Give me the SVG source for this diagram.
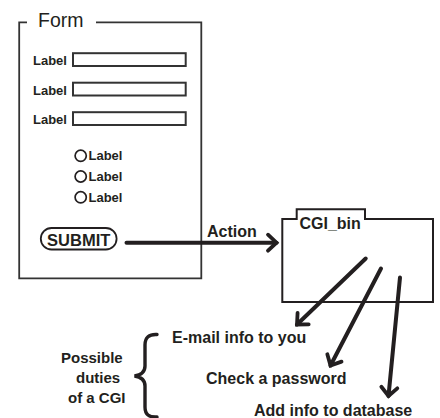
<svg xmlns="http://www.w3.org/2000/svg" width="440" height="418" viewBox="0 0 440 418">
  <defs>
    <style>
      .ink { stroke: #231f20; fill: none; }
      .frame { stroke: #333; stroke-width: 1.8; fill: none; }
      .field { stroke: #333; stroke-width: 2; fill: #fff; }
      .txt { font-family: "Liberation Sans", Arial, sans-serif; fill: #231f20; font-weight: bold; }
      .lbl { font-size: 13px; }
      .duty { font-size: 16px; }
      .note { font-size: 15px; }
      .arrow { stroke: #231f20; stroke-width: 4; fill: none; stroke-linecap: round; marker-end: url(#chev); }
    </style>
    <marker id="chev" markerUnits="userSpaceOnUse" viewBox="-12 -12 16 24" markerWidth="16" markerHeight="24" refX="0" refY="0" orient="auto">
      <path d="M-8.5,-8 L0,0 L-8.5,8" fill="none" stroke="#231f20" stroke-width="3.8" stroke-linecap="round" stroke-linejoin="miter"/>
    </marker>
  </defs>

  <!-- HTML form panel -->
  <g id="form">
    <path class="frame" d="M27,22.3 H19.2 V278.3 H201.3 V22.3 H96"/>
    <text x="38" y="27.3" font-family="Liberation Sans, Arial, sans-serif" font-size="19.5" fill="#231f20">Form</text>

    <g id="field-1">
      <text class="txt lbl" x="33" y="65">Label</text>
      <rect class="field" x="73" y="53.2" width="112.7" height="12.8"/>
    </g>
    <g id="field-2">
      <text class="txt lbl" x="33" y="94.5">Label</text>
      <rect class="field" x="73" y="82.7" width="112.7" height="12.8"/>
    </g>
    <g id="field-3">
      <text class="txt lbl" x="33" y="124">Label</text>
      <rect class="field" x="73" y="112.2" width="112.7" height="12.8"/>
    </g>

    <g id="radio-1">
      <circle class="ink" cx="80.7" cy="155.8" r="5.6" stroke-width="1.7"/>
      <text class="txt lbl" x="88.5" y="160">Label</text>
    </g>
    <g id="radio-2">
      <circle class="ink" cx="80.7" cy="176.5" r="5.6" stroke-width="1.7"/>
      <text class="txt lbl" x="88.5" y="181">Label</text>
    </g>
    <g id="radio-3">
      <circle class="ink" cx="80.7" cy="197.3" r="5.6" stroke-width="1.7"/>
      <text class="txt lbl" x="88.5" y="202">Label</text>
    </g>

    <g id="submit">
      <rect class="ink" x="40.8" y="228" width="75.8" height="21.5" rx="10.75" stroke-width="1.8"/>
      <text class="txt" x="78.7" y="245.8" font-size="16.5" text-anchor="middle">SUBMIT</text>
    </g>
  </g>

  <!-- server-side script folder -->
  <g id="cgi-bin">
    <path class="ink" stroke-width="2" d="M282.3,302 V219 H296.7 V209.3 H365 V219 H433 V302 Z"/>
    <text class="txt" x="299.5" y="228.5" font-size="16">CGI_bin</text>
  </g>

  <!-- possible duties -->
  <g id="duty-email">
    <text class="txt duty" x="172" y="343.3">E-mail info to you</text>
  </g>
  <g id="duty-password">
    <text class="txt duty" x="206" y="384">Check a password</text>
  </g>
  <g id="duty-database">
    <text class="txt duty" x="254" y="416">Add info to database</text>
  </g>

  <g id="duties-caption">
    <text class="txt note" x="61" y="362.5">Possible</text>
    <text class="txt note" x="76" y="382.5">duties</text>
    <text class="txt note" x="68" y="402.5">of a CGI</text>
    <path class="ink" stroke-width="3.4" stroke-linecap="round" d="M157,334.5 C149,334 145,337.5 145,345 L145,366 C145,372 141,375 134.5,376 C141,377 145,380 145,386 L145,407 C145,414.5 149,417.5 157,417"/>
  </g>

  <!-- connectors -->
  <g id="connectors">
    <text class="txt" x="207" y="237.3" font-size="16">Action</text>
    <line class="arrow" x1="126.5" y1="242.7" x2="276.5" y2="242.7"/>
    <line class="arrow" x1="365.7" y1="258.5" x2="297" y2="324.5"/>
    <line class="arrow" x1="381" y1="268.5" x2="330.5" y2="365.5"/>
    <line class="arrow" x1="400" y1="277.5" x2="388.5" y2="396"/>
  </g>
</svg>
